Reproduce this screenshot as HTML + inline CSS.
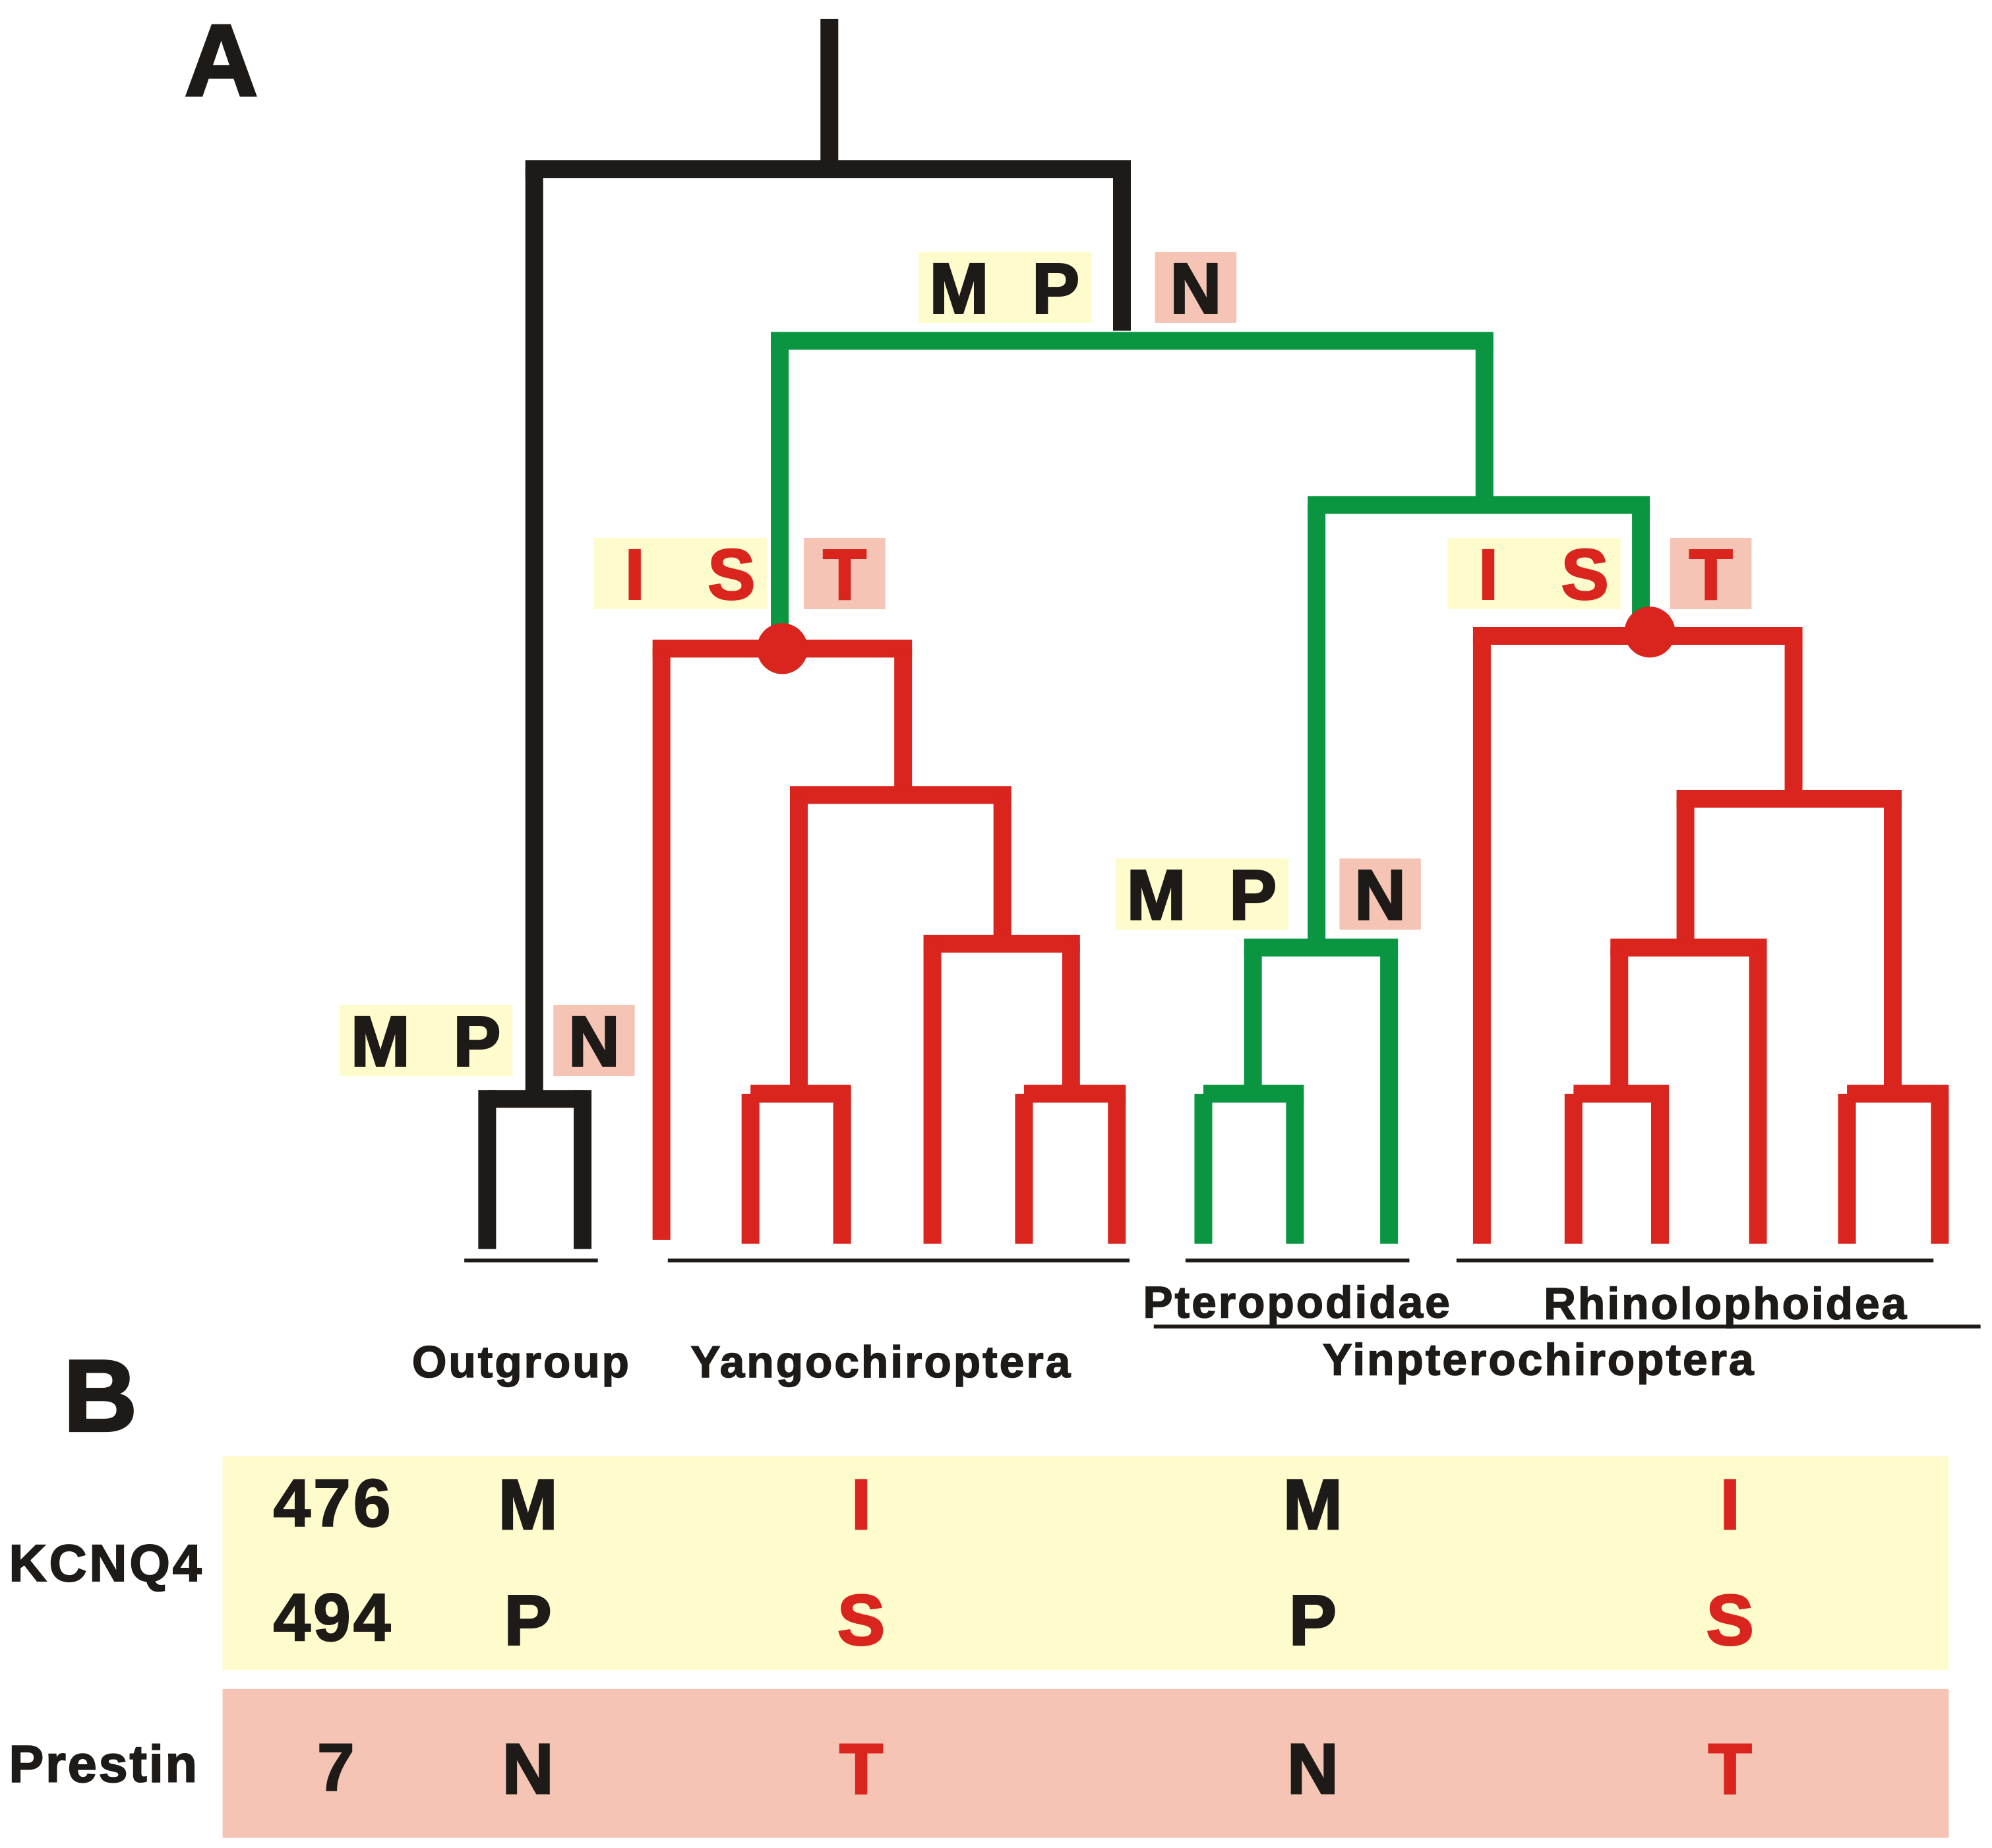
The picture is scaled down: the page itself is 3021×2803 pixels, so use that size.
<!DOCTYPE html>
<html><head><meta charset="utf-8">
<style>
html,body{margin:0;padding:0;background:#fff;}
svg{display:block;}
text{font-family:"Liberation Sans",sans-serif;font-weight:bold;}
</style></head>
<body>
<svg id="fig" width="3021" height="2803" viewBox="0 0 1566 1453" preserveAspectRatio="none" xmlns="http://www.w3.org/2000/svg">
<g id="tree" fill="none" stroke-width="14" stroke-linecap="butt" stroke-linejoin="miter"></g>
<g>
<circle cx="615" cy="510" r="20" fill="#d9251d"/>
<circle cx="1297" cy="497" r="20" fill="#d9251d"/>
</g>
<text x="145" y="75" font-size="80" fill="#1d1a18" stroke="#1d1a18" stroke-width="2">A</text>
<text x="50" y="1125" font-size="80" fill="#1d1a18" stroke="#1d1a18" stroke-width="2">B</text>
<g id="labels"></g>
<g stroke="#1d1a18" stroke-width="3">
<line x1="365" y1="991" x2="470" y2="991"/>
<line x1="525" y1="991" x2="888" y2="991"/>
<line x1="932" y1="991" x2="1108" y2="991"/>
<line x1="1145" y1="991" x2="1520" y2="991"/>
<line x1="907" y1="1043" x2="1557" y2="1043"/>
</g>
<g font-size="35" fill="#1d1a18" stroke="#1d1a18" stroke-width="0.8" letter-spacing="1.6" text-anchor="middle">
<text x="1020" y="1036">Pteropodidae</text>
<text x="1357" y="1037">Rhinolophoidea</text>
<text x="410" y="1083">Outgroup</text>
<text x="693" y="1083">Yangochiroptera</text>
<text x="1210" y="1081">Yinpterochiroptera</text>
</g>
<rect x="175" y="1145" width="1357" height="168" fill="#fefbcc"/>
<rect x="175" y="1328" width="1357" height="117" fill="#f5c4b4"/>
<g fill="#1d1a18" stroke="#1d1a18" stroke-width="1">
<text x="7" y="1243" font-size="41" letter-spacing="2">KCNQ4</text>
<text x="7" y="1401" font-size="41" letter-spacing="1.5">Prestin</text>
<text x="262" y="1200" font-size="53" letter-spacing="2" text-anchor="middle">476</text>
<text x="262" y="1290" font-size="53" letter-spacing="2" text-anchor="middle">494</text>
<text x="264" y="1408" font-size="53" text-anchor="middle">7</text>
</g>
<g id="table" font-size="56" text-anchor="middle"></g>
</svg>
<script>
const BLACK="#1d1a18", RED="#d9251d", GREEN="#0a9640";
// branch segments: [x1,y1,x2,y2,color]
const branches=[
[652,15,652,133,BLACK],[413,133,889,133,BLACK],[420,133,420,864,BLACK],[882,133,882,260,BLACK],
[383,864,458,864,BLACK],[383,857,383,982,BLACK],[458,857,458,982,BLACK],
[606,268,1174,268,GREEN],[613,268,613,505,GREEN],[1167,268,1167,397,GREEN],
[1028,397,1297,397,GREEN],[1035,397,1035,745,GREEN],[1290,397,1290,490,GREEN],
[513,510,717,510,RED],[520,510,520,975,RED],[710,510,710,625,RED],
[621,625,795,625,RED],[628,625,628,860,RED],[590,860,669,860,RED],[590,860,590,978,RED],[662,860,662,978,RED],
[788,625,788,742,RED],[726,742,849,742,RED],[733,742,733,978,RED],[842,742,842,860,RED],
[805,860,885,860,RED],[805,860,805,978,RED],[878,860,878,978,RED],
[978,745,1099,745,GREEN],[1092,745,1092,978,GREEN],[985,745,985,860,GREEN],
[946,860,1025,860,GREEN],[946,860,946,978,GREEN],[1018,860,1018,978,GREEN],
[1158,500,1417,500,RED],[1165,500,1165,978,RED],[1410,500,1410,628,RED],
[1318,628,1495,628,RED],[1325,628,1325,745,RED],[1266,745,1389,745,RED],[1382,745,1382,978,RED],
[1273,745,1273,860,RED],[1237,860,1312,860,RED],[1237,860,1237,978,RED],[1305,860,1305,978,RED],
[1488,628,1488,860,RED],[1452,860,1532,860,RED],[1452,860,1452,978,RED],[1525,860,1525,978,RED]
];
// label groups: [yellowX, y, pinkX, letters, color]
const labelGroups=[
[722,198,908,["M","P","N"],BLACK],
[467,423,632,["I","S","T"],RED],
[1138,423,1313,["I","S","T"],RED],
[877,675,1053,["M","P","N"],BLACK],
[267,790,435,["M","P","N"],BLACK]
];
const colX=[415,677,1032,1360];
const rowY=[1202,1293,1410];
const residues=[["M","I","M","I"],["P","S","P","S"],["N","T","N","T"]];
const resColors=[BLACK,RED,BLACK,RED];
const NS="http://www.w3.org/2000/svg";
const tree=document.getElementById("tree");
branches.forEach(b=>{
  const l=document.createElementNS(NS,"line");
  l.setAttribute("x1",b[0]);l.setAttribute("y1",b[1]);l.setAttribute("x2",b[2]);l.setAttribute("y2",b[3]);
  l.setAttribute("stroke",b[4]);
  
  
  tree.appendChild(l);
});
const lab=document.getElementById("labels");
labelGroups.forEach(g=>{
  const y=document.createElementNS(NS,"rect");
  y.setAttribute("x",g[0]);y.setAttribute("y",g[1]);y.setAttribute("width",136);y.setAttribute("height",56);y.setAttribute("fill","#fefbcc");
  
  
  lab.appendChild(y);
  const p=document.createElementNS(NS,"rect");
  p.setAttribute("x",g[2]);p.setAttribute("y",g[1]);p.setAttribute("width",64);p.setAttribute("height",56);p.setAttribute("fill","#f5c4b4");
  
  
  lab.appendChild(p);
  const xs=[g[0]+32,g[0]+108,g[2]+32];
  g[3].forEach((c,i)=>{
    const t=document.createElementNS(NS,"text");
    t.setAttribute("x",xs[i]);t.setAttribute("y",g[1]+48);t.setAttribute("font-size",56);
    t.setAttribute("text-anchor","middle");t.setAttribute("fill",g[4]);
    t.setAttribute("stroke",g[4]);t.setAttribute("stroke-width",1.5);t.textContent=c;
    
    
    lab.appendChild(t);
  });
});
const tab=document.getElementById("table");
residues.forEach((row,r)=>row.forEach((c,i)=>{
  const t=document.createElementNS(NS,"text");
  t.setAttribute("x",colX[i]);t.setAttribute("y",rowY[r]);t.setAttribute("fill",resColors[i]);
  t.setAttribute("stroke",resColors[i]);t.setAttribute("stroke-width",1.5);t.textContent=c;
  
  
  tab.appendChild(t);
}));
</script>
</body></html>
